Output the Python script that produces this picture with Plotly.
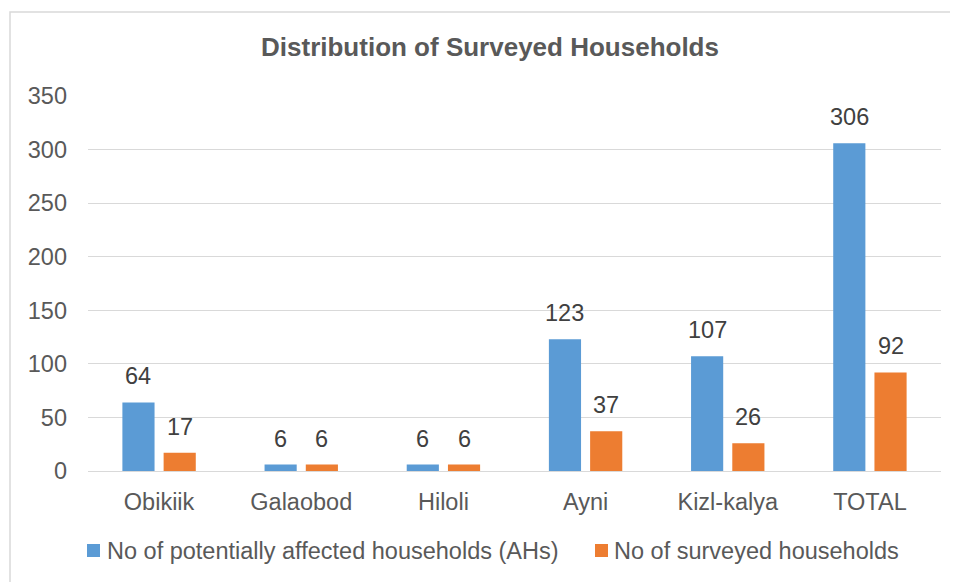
import plotly.graph_objects as go

categories = ["Obikiik", "Galaobod", "Hiloli", "Ayni", "Kizl-kalya", "TOTAL"]
affected = [64, 6, 6, 123, 107, 306]
surveyed = [17, 6, 6, 37, 26, 92]
series_names = ["No of potentially affected households (AHs)", "No of surveyed households"]
series_colors = ["#5B9BD5", "#ED7D31"]
y_ticks = [0, 50, 100, 150, 200, 250, 300, 350]

FONT = "Liberation Sans, Arial, sans-serif"
OFF = 8  # page body offset
W, H = 958 - OFF, 582 - OFF
# plot area in absolute screenshot px: x 88..941, y 96..471
L = 88 - OFF
R = W - (941 - OFF)
T = 96 - OFF
B = H - (471 - OFF)
pw = W - L - R
ph = H - T - B
BARGAP, GROUPGAP = 0.42, 0.22
slot = pw / len(categories) * (1 - BARGAP) / 2

def px_x(px):  # absolute screenshot px -> paper
    return (px - OFF - L) / pw

def px_y(py):
    return (H - B - (py - OFF)) / ph

fig = go.Figure()
annotations = []
for i, (vals, name, col) in enumerate([(affected, series_names[0], series_colors[0]),
                                       (surveyed, series_names[1], series_colors[1])]):
    fig.add_trace(go.Bar(x=categories, y=vals, name=name,
                         marker=dict(color=col, line=dict(width=0)),
                         showlegend=False, hoverinfo="x+y+name"))
    shift = (i - 0.5) * slot
    for c, v in zip(categories, vals):
        annotations.append(dict(x=c, y=v, xref="x", yref="y", text=str(v),
                                showarrow=False, xanchor="center", yanchor="bottom",
                                xshift=shift, yshift=11,
                                font=dict(size=23.5, color="#404040", family=FONT)))

# legend drawn manually
legend_items = [(87, 105), (595, 612)]
shapes = []
for (sqx, tx), name, col in zip(legend_items, series_names, series_colors):
    shapes.append(dict(type="rect", xref="paper", yref="paper",
                       x0=px_x(sqx), x1=px_x(sqx + 13), y0=px_y(557), y1=px_y(544),
                       fillcolor=col, line=dict(width=0)))
    annotations.append(dict(text=name, xref="paper", yref="paper",
                            x=px_x(tx), y=px_y(551), xanchor="left", yanchor="middle",
                            showarrow=False,
                            font=dict(size=23.5, color="#595959", family=FONT)))

shapes.append(dict(type="rect", xref="paper", yref="paper",
                   x0=px_x(10), x1=px_x(975), y0=px_y(600), y1=px_y(12),
                   line=dict(color="#D9D9D9", width=1.5), fillcolor="rgba(0,0,0,0)",
                   layer="below"))

fig.update_layout(
    width=W, height=H,
    margin=dict(l=L, r=R, t=T, b=B),
    paper_bgcolor="white", plot_bgcolor="white",
    font=dict(family=FONT, color="#595959", size=23),
    title=dict(text="<b>Distribution of Surveyed Households</b>",
               x=(490 - OFF) / W, xanchor="center", y=1 - (47 - OFF) / H, yanchor="middle",
               font=dict(size=26, color="#595959", family=FONT)),
    barmode="group", bargap=BARGAP, bargroupgap=GROUPGAP,
    showlegend=False,
    xaxis=dict(showgrid=False, showline=True, linecolor="#D9D9D9", linewidth=1,
               ticks="", tickfont=dict(size=23.5, color="#595959"), ticklabelstandoff=10),
    yaxis=dict(range=[0, 350], tickvals=y_ticks, showgrid=True, gridcolor="#D9D9D9",
               gridwidth=1, zeroline=False, ticks="", showline=False,
               tickfont=dict(size=23.5, color="#595959"), ticklabelstandoff=20),
    shapes=shapes,
    annotations=annotations,
)

fig.write_html("out.html")
